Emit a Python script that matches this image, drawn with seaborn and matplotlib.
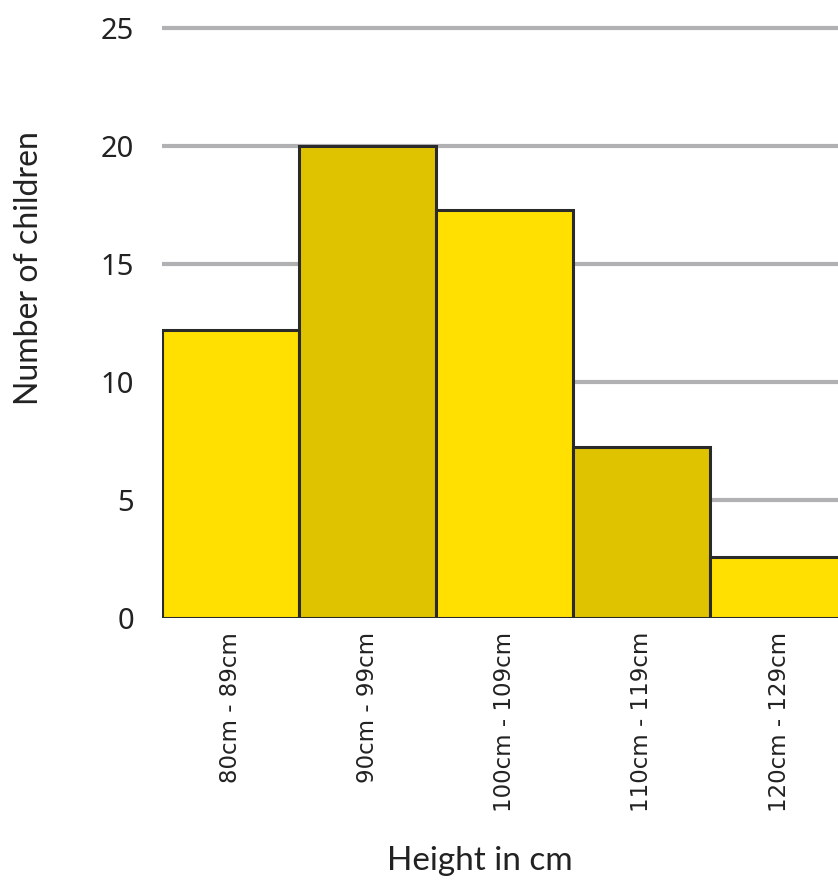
import matplotlib
matplotlib.use('Agg')
import matplotlib.pyplot as plt
import pandas as pd
import seaborn as sns

# ── data ────────────────────────────────────────────
height_bands = ['80cm - 89cm', '90cm - 99cm', '100cm - 109cm',
                '110cm - 119cm', '120cm - 129cm']
children = [12.2, 20.0, 17.3, 7.25, 2.6]
bar_colors = ['#FFE000', '#DFC300', '#FFE000', '#DFC300', '#FFE000']

df = pd.DataFrame({'band': height_bands, 'count': children})

sns.set_theme(style='white')
plt.rcParams['font.family'] = ['Noto Sans', 'DejaVu Sans']

fig = plt.figure(figsize=(8.38, 8.82), dpi=100)
ax = fig.add_axes([162 / 838, 1 - 618 / 882, 1 - 162 / 838, (618 - 23.3) / 882])

sns.barplot(data=df, x='band', y='count', hue='band', palette=bar_colors,
            width=1.0, edgecolor='#2a2a2a', linewidth=2.2, saturation=1,
            legend=False, ax=ax, zorder=3)

ax.set_xlim(-0.5, 4.43)
ax.set_ylim(0, 25.2)
ax.set_yticks([0, 5, 10, 15, 20, 25])
ax.yaxis.grid(True, color='#b1b1b3', linewidth=3, zorder=0)
ax.set_axisbelow(True)
for s in ax.spines.values():
    s.set_visible(False)

ax.tick_params(axis='y', length=0, pad=20, labelsize=21, labelcolor='#222222')
ax.tick_params(axis='x', length=0, pad=10, labelcolor='#222222')
plt.setp(ax.get_xticklabels(), rotation=90, va='top', ha='center',
         family='DejaVu Sans', fontsize=16.5)

ax.set_xlabel('Height in cm', fontsize=24, color='#222222', family=['Lato', 'DejaVu Sans'])
ax.set_ylabel('Number of children', fontsize=23, color='#222222', family=['Lato', 'DejaVu Sans'])
ax.xaxis.set_label_coords((480 - 162) / 676, -(846 - 618) / 594.7)
ax.yaxis.set_label_coords(-(162 - 44) / 676, (618 - 268) / 594.7)

plt.savefig('out.png', dpi=100)
plt.close()
